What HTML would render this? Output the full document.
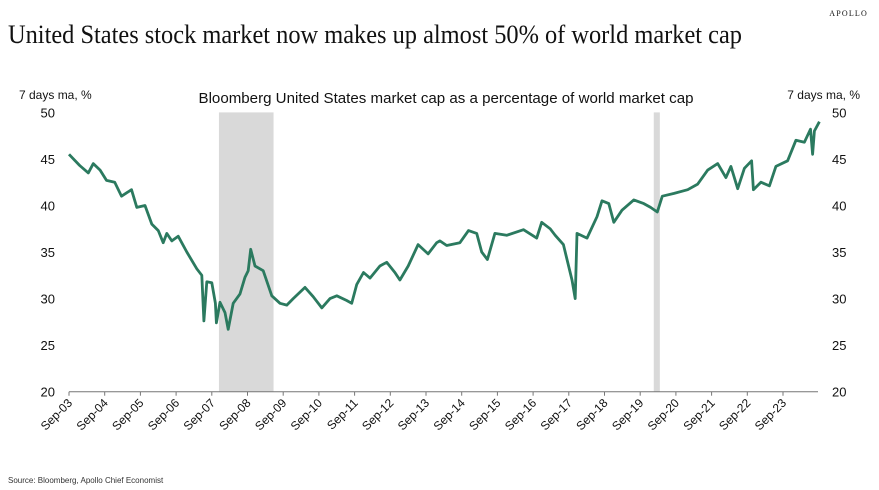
<!DOCTYPE html>
<html><head><meta charset="utf-8"><style>
html,body{margin:0;padding:0;background:#fff;width:879px;height:490px;overflow:hidden}
svg text{font-family:"Liberation Sans",sans-serif;fill:#111}
</style></head><body>
<svg id="chart" width="879" height="490" viewBox="0 0 879 490" xmlns="http://www.w3.org/2000/svg">
<text x="868" y="16" text-anchor="end" style="font-family:'Liberation Serif',serif;font-size:8px;letter-spacing:1.2px">APOLLO</text>
<text x="8" y="43" textLength="734" lengthAdjust="spacingAndGlyphs" style="font-family:'Liberation Serif',serif;font-size:26px">United States stock market now makes up almost 50% of world market cap</text>
<text x="446" y="103" text-anchor="middle" textLength="495" lengthAdjust="spacingAndGlyphs" style="font-size:15px">Bloomberg United States market cap as a percentage of world market cap</text>
<text x="19" y="99" style="font-size:12px">7 days ma, %</text>
<text x="860" y="99" text-anchor="end" style="font-size:12px">7 days ma, %</text>
<g id="shades"></g>
<g id="axes"></g>
<g id="series"></g>
<text x="8" y="483" style="font-size:8px;fill:#333">Source: Bloomberg, Apollo Chief Economist</text>
</svg>
<script>
const yTicks = [20,25,30,35,40,45,50];
const xTickLabels = ["Sep-03","Sep-04","Sep-05","Sep-06","Sep-07","Sep-08","Sep-09","Sep-10","Sep-11","Sep-12","Sep-13","Sep-14","Sep-15","Sep-16","Sep-17","Sep-18","Sep-19","Sep-20","Sep-21","Sep-22","Sep-23"];
const recessionStart = [4.2, 16.38];
const recessionEnd = [5.73, 16.55];
const seriesT = [0,0.3,0.54,0.68,0.87,1.05,1.28,1.47,1.75,1.9,2.13,2.32,2.5,2.64,2.74,2.88,3.06,3.3,3.58,3.72,3.78,3.86,4.0,4.1,4.13,4.23,4.37,4.46,4.6,4.79,4.93,5.02,5.09,5.21,5.44,5.68,5.91,6.1,6.28,6.61,6.84,7.08,7.31,7.5,7.78,7.92,8.06,8.25,8.43,8.71,8.9,9.13,9.27,9.5,9.78,10.06,10.3,10.39,10.58,10.95,11.19,11.42,11.56,11.72,11.93,12.26,12.73,13.1,13.24,13.48,13.62,13.85,14.09,14.18,14.23,14.51,14.79,14.93,15.12,15.26,15.49,15.82,16.1,16.29,16.48,16.62,16.95,17.33,17.61,17.89,18.17,18.4,18.54,18.73,18.92,19.12,19.17,19.38,19.62,19.8,20.13,20.36,20.6,20.77,20.83,20.88,21.02];
const seriesV = [45.5,44.3,43.5,44.5,43.8,42.7,42.5,41,41.7,39.8,40,38,37.3,36,37,36.2,36.7,35,33.2,32.5,27.6,31.8,31.7,29.5,27.4,29.6,28.5,26.7,29.5,30.5,32.3,33,35.3,33.5,33,30.3,29.5,29.3,30,31.2,30.2,29,30,30.3,29.8,29.5,31.5,32.8,32.2,33.5,33.9,32.8,32,33.5,35.8,34.8,36,36.2,35.7,36,37.3,37,35,34.2,37,36.8,37.4,36.5,38.2,37.5,36.8,35.8,32,30,37,36.5,38.8,40.5,40.2,38.2,39.5,40.6,40.2,39.8,39.3,41,41.3,41.7,42.3,43.8,44.5,43,44.2,41.8,44,44.8,41.7,42.5,42.1,44.2,44.8,47,46.8,48.2,45.5,48,49];
const NS="http://www.w3.org/2000/svg";
const X0=69, XW=35.7, Y0=391.7, YS=9.31, XEND=818;
function xs(t){return X0+t*XW;}
function ys(v){return Y0-(v-20)*YS;}
function mk(tag,attrs,parent){const e=document.createElementNS(NS,tag);for(const k in attrs)e.setAttribute(k,attrs[k]);parent.appendChild(e);return e;}
const sh=document.getElementById('shades');
recessionStart.forEach((s,i)=>{
  const r=mk('rect',{x:xs(s),y:ys(50),width:xs(recessionEnd[i])-xs(s),height:ys(20)-ys(50),fill:'#d9d9d9'},sh);
  
  
});
const ax=document.getElementById('axes');
const xl=mk('line',{x1:X0,x2:XEND,y1:Y0,y2:Y0,stroke:'#777','stroke-width':1},ax);


yTicks.forEach(v=>{
  const l=mk('text',{x:55,y:ys(v)+5,'text-anchor':'end','font-size':13},ax);l.textContent=v;
  
  
  const r=mk('text',{x:832,y:ys(v)+5,'font-size':13},ax);r.textContent=v;
  
  
});
xTickLabels.forEach((lab,i)=>{
  const x=xs(i);
  const tk=mk('line',{x1:x,x2:x,y1:Y0,y2:Y0+4,stroke:'#777'},ax);
  
  
  const t=mk('text',{x:x+4,y:Y0+12,'text-anchor':'end','font-size':12,transform:`rotate(-45 ${x+4} ${Y0+12})`},ax);
  t.textContent=lab;
  
  
});
const pts=seriesT.map((t,i)=>xs(t).toFixed(1)+','+ys(seriesV[i]).toFixed(1)).join(' ');
const pl=mk('polyline',{points:pts,fill:'none',stroke:'#2b7a5f','stroke-width':2.8,'stroke-linejoin':'round'},document.getElementById('series'));


</script>
</body></html>
